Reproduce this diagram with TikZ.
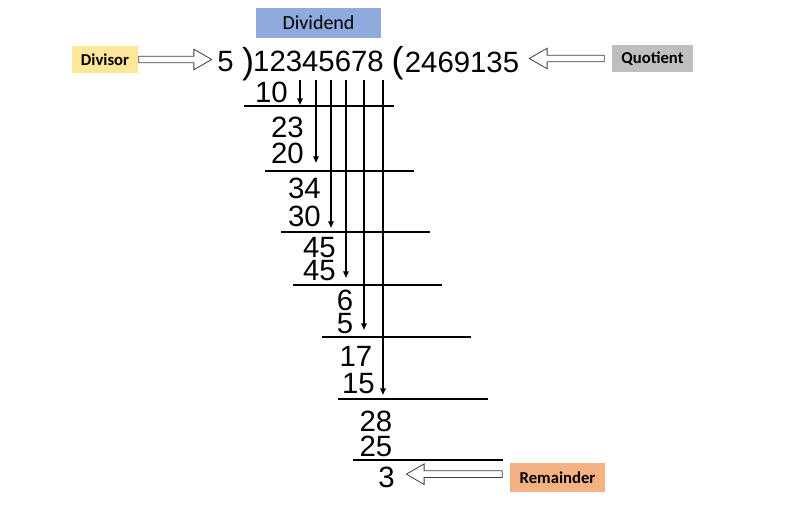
\documentclass[tikz,border=0pt]{standalone}
\usepackage{fontspec}
\setmainfont{Liberation Sans}
\newfontfamily\tagfont{Carlito}
\usepackage{tikz}
\usetikzlibrary{
    positioning,
    arrows.meta,
    shapes.arrows
}
\definecolor{dividendBlue}{RGB}{143, 170, 220}
\definecolor{divisorYellow}{RGB}{255, 230, 153}
\definecolor{quotientGray}{RGB}{191, 191, 191}
\definecolor{remainderOrange}{RGB}{244, 177, 131}
\definecolor{arrowGray}{RGB}{64, 64, 64}

\begin{document}
\begin{tikzpicture}[x=0.75pt, y=-0.75pt,
    tag/.style={inner sep=0pt, font=\tagfont\bfseries\fontsize{12.5}{14}\selectfont},
    num/.style={inner sep=0pt, font=\fontsize{22}{24}\selectfont},
    paren/.style={inner sep=0pt, font=\fontsize{27}{29}\selectfont},
    rule/.style={line width=2.1pt},
    drop/.style={line width=1.5pt, -{Triangle[length=5pt, width=4pt]}},
    hollow/.style={single arrow, draw=arrowGray, fill=white, line width=0.6pt,
        inner sep=2.2pt, minimum width=0pt, single arrow head extend=5.2pt,
        single arrow tip angle=60}
]
            \useasboundingbox (0,0) rectangle (794,525);

            \node[tag, fill=dividendBlue, minimum width=93.75pt, minimum height=22.5pt,
                font=\tagfont\fontsize{15}{17}\selectfont] (dividendTag) at (318.5,23) {Dividend};
            \node[tag, fill=divisorYellow, minimum width=49.5pt, minimum height=20.25pt] (divisorTag) at (105,59.5) {Divisor};
            \node[tag, fill=quotientGray, minimum width=60.75pt, minimum height=20.25pt] (quotientTag) at (652.5,58.5) {Quotient};
            \node[tag, fill=remainderOrange, minimum width=71.25pt, minimum height=21.75pt] (remainderTag) at (557.5,477.5) {Remainder};

            \node[num] (five) at (225.5,62) {5};
            \node[paren] (closer) at (248,64) {)};
            \node[num] (dividend) at (318.5,61) {12345678};
            \node[paren] (opener) at (397.5,63) {(};
            \node[num] (quotient) at (462,62) {2469135};

            \foreach \t/\x/\y [count=\i] in {10/271.5/92.5, 23/287.5/127.5, 20/287.5/153,
                34/304.5/188.5, 30/304.5/216.5, 45/319.5/248, 45/319.5/271, 6/345/300,
                5/345/324, 17/356/356, 15/358.5/384, 28/376/421, 25/376/446}
                \node[num] (part\i) at (\x,\y) {\t};
            \node[num] (rest) at (386.5,477) {3};

            \foreach \y/\a/\b in {106/244/394, 171/265/414, 232/281/430, 285/293/442,
                337/322/471, 399/338/488, 460/353/503}
                \draw[rule] (\a,\y) -- (\b,\y);

            \foreach \x/\y [count=\i] in {300/105, 316/163, 331/228, 346/278, 364/330, 383/395} {
                \coordinate (top\i) at (\x,80);
                \coordinate (end\i) at (\x,\y);
                \draw[drop] (top\i) -- (end\i);
            }

            \node[hollow, minimum height=54.75pt, anchor=tail] (toDivisor) at (divisorTag.east) {};
            \node[hollow, minimum height=56.25pt, anchor=tail, shape border rotate=180]
                (toQuotient) at ([xshift=-5.25pt]quotientTag.west) {};
            \node[hollow, minimum height=72pt, anchor=tail, shape border rotate=180]
                (toRest) at ([xshift=-5.25pt, yshift=2.5pt]remainderTag.west) {};
        \end{tikzpicture}
\end{document}
